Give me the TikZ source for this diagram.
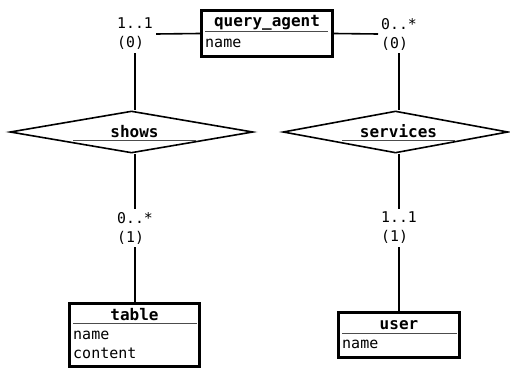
\documentclass[tikz,border=0pt]{standalone}
\usepackage{fontspec}
\usetikzlibrary{shapes.geometric}
\newfontfamily\erfont{DejaVu Sans Mono}
\begin{document}
\begin{tikzpicture}[x=1pt, y=-1pt, entity/.style={draw, line width=3pt}, relation/.style={draw, diamond, line width=1.6pt, inner sep=0pt}, etitle/.style={font=\erfont\bfseries\fontsize{16}{18}\selectfont, inner sep=0pt}, attr/.style={font=\erfont\fontsize{15}{18}\selectfont, inner sep=0pt}, card/.style={font=\erfont\fontsize{14.8}{19}\selectfont, align=left, inner sep=3pt}, uline/.style={draw, line width=0.9pt, black!70}, conn/.style={line width=1.6pt}]
	\useasboundingbox (0,0) rectangle (510,369);
	\node[entity, minimum width=131, minimum height=46] (QA) at (267,33.5) {};
	\node[etitle, anchor=base] (QAt) at (267,27) {query\_agent};
	\draw[uline] (205,31) -- (328,31);
	\node[attr, anchor=base west] (QAn) at (205,47) {name};
	\node[entity, minimum width=130, minimum height=63] (T) at (134.5,335) {};
	\node[etitle, anchor=base] (Tt) at (134.5,320) {table};
	\draw[uline] (73,323.5) -- (197,323.5);
	\node[attr, anchor=base west] (Tn) at (73,339) {name};
	\node[attr, anchor=base west] (Tc) at (73,358) {content};
	\node[entity, minimum width=121, minimum height=45] (U) at (399,335) {};
	\node[etitle, anchor=base] (Ut) at (399,329) {user};
	\draw[uline] (342,333) -- (457,333);
	\node[attr, anchor=base west] (Un) at (342,348) {name};
	\node[relation, minimum width=243, minimum height=42] (SH) at (131.5,132) {};
	\node[etitle, anchor=base] (SHt) at (134.5,137) {shows};
	\draw[uline] (73,140) -- (196,140);
	\node[relation, minimum width=225, minimum height=42] (SV) at (395.5,132) {};
	\node[etitle, anchor=base] (SVt) at (398.5,137) {services};
	\draw[uline] (342,140) -- (455,140);
	\node[card, anchor=west] (C1) at (114,34) {1..1\\(0)};
	\node[card, anchor=west] (C2) at (378,34) {0..*\\(0)};
	\node[card, anchor=west] (C3) at (114,228) {0..*\\(1)};
	\node[card, anchor=west] (C4) at (378,228) {1..1\\(1)};
	\draw[conn] (QA.west) -- (C1.east);
	\draw[conn] (C1.south) -- (C1.south |- SH.north);
	\draw[conn] (C3.north |- SH.south) -- (C3.north);
	\draw[conn] (C3.south) -- (C3.south |- T.north);
	\draw[conn] (QA.east) -- (C2.west);
	\draw[conn] (C2.south) -- (C2.south |- SV.north);
	\draw[conn] (C4.north |- SV.south) -- (C4.north);
	\draw[conn] (C4.south) -- (C4.south |- U.north);
\end{tikzpicture}
\end{document}
